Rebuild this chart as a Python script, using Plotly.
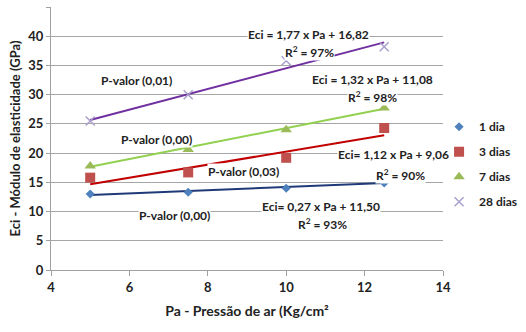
import plotly.graph_objects as go

pressao = [5, 7.5, 10, 12.5]
series_names = ["1 dia", "3 dias", "7 dias", "28 dias"]
eci_1 = [13.0, 13.3, 14.0, 14.9]
eci_3 = [15.8, 16.7, 19.2, 24.3]
eci_7 = [17.8, 20.6, 24.0, 27.7]
eci_28 = [25.5, 30.0, 35.8, 38.2]
slopes = [0.27, 1.12, 1.32, 1.77]
intercepts = [11.50, 9.06, 11.08, 16.82]

marker_colors = ["#4F81BD", "#C0504D", "#9BBB59", "#A99FCC"]
line_colors = ["#1F3A78", "#C00000", "#92D050", "#7030A0"]
symbols = ["diamond", "square", "triangle-up", "x-thin"]
sizes = [7, 10, 10, 9]

fig = go.Figure()
for name, ys, m, b, mc, lc, sym, sz in zip(series_names, [eci_1, eci_3, eci_7, eci_28],
                                          slopes, intercepts, marker_colors, line_colors, symbols, sizes):
    xs = [pressao[0], pressao[-1]]
    fig.add_trace(go.Scatter(x=xs, y=[m * x + b for x in xs], mode="lines",
                             line=dict(color=lc, width=2), showlegend=False, hoverinfo="skip"))
for name, ys, mc, sym, sz in zip(series_names, [eci_1, eci_3, eci_7, eci_28], marker_colors, symbols, sizes):
    mk = dict(color=mc, symbol=sym, size=sz)
    if sym == "x-thin":
        mk["line"] = dict(color=mc, width=1.5)
    fig.add_trace(go.Scatter(x=pressao, y=ys, mode="markers", name=name, marker=mk,
                             legendgroup=name))

font_fam = "Lato, Open Sans, sans-serif"
annots = [
    ("Eci = 1,77 x Pa + 16,82", 308, 34),
    ("R<sup>2</sup> = 97%", 309, 52),
    ("Eci = 1,32 x Pa + 11,08", 372, 79),
    ("R<sup>2</sup> = 98%", 372, 97),
    ("Eci= 1,12 x Pa + 9,06", 393, 155),
    ("R<sup>2</sup> = 90%", 400, 175),
    ("Eci= 0,27 x Pa + 11,50", 321, 206),
    ("R<sup>2</sup> = 93%", 322, 224),
    ("P-valor (0,01)", 136, 81),
    ("P-valor (0,00)", 156, 139),
    ("P-valor (0,03)", 243, 172),
    ("P-valor (0,00)", 174, 215),
]
W, H = 526, 332
L, R, T, B = 51, 83, 7, 62
for txt, px, py in annots:
    fig.add_annotation(text=txt, xref="paper", yref="paper",
                       x=(px - L) / (W - L - R), y=(H - B - py) / (H - T - B),
                       xanchor="center", yanchor="middle", showarrow=False,
                       bgcolor="white", borderpad=0,
                       font=dict(family=font_fam, size=12, color="#222222", weight="bold"))

fig.update_layout(
    width=W, height=H, margin=dict(l=L, r=R, t=T, b=B, autoexpand=False),
    paper_bgcolor="white", plot_bgcolor="white",
    font=dict(family=font_fam, size=12, color="#222222", weight="bold"),
    legend=dict(x=0.99, y=0.60, xanchor="left", yanchor="top", tracegroupgap=6,
                itemwidth=30, font=dict(size=12, weight="bold"), bgcolor="rgba(0,0,0,0)"),
    xaxis=dict(range=[4, 14], dtick=2, tick0=4, showgrid=False, showline=True,
               linecolor="#A0A0A0", ticks="outside", ticklen=5, tickcolor="#A0A0A0",
               zeroline=False, tickfont=dict(size=13),
               title=dict(text="Pa - Pressão de ar (Kg/cm²", standoff=12,
                          font=dict(size=14, weight="bold"))),
    yaxis=dict(range=[0, 45], dtick=5, showgrid=True, gridcolor="#A6A6A6", gridwidth=1,
               showline=True, linecolor="#A0A0A0", ticks="outside", ticklen=4,
               tickcolor="#A0A0A0", zeroline=False, tickfont=dict(size=13),
               title=dict(text="Eci - Módulo de elasticidade (GPa)", standoff=4,
                          font=dict(size=13, weight="bold"))),
)
fig.write_html("out.html")
